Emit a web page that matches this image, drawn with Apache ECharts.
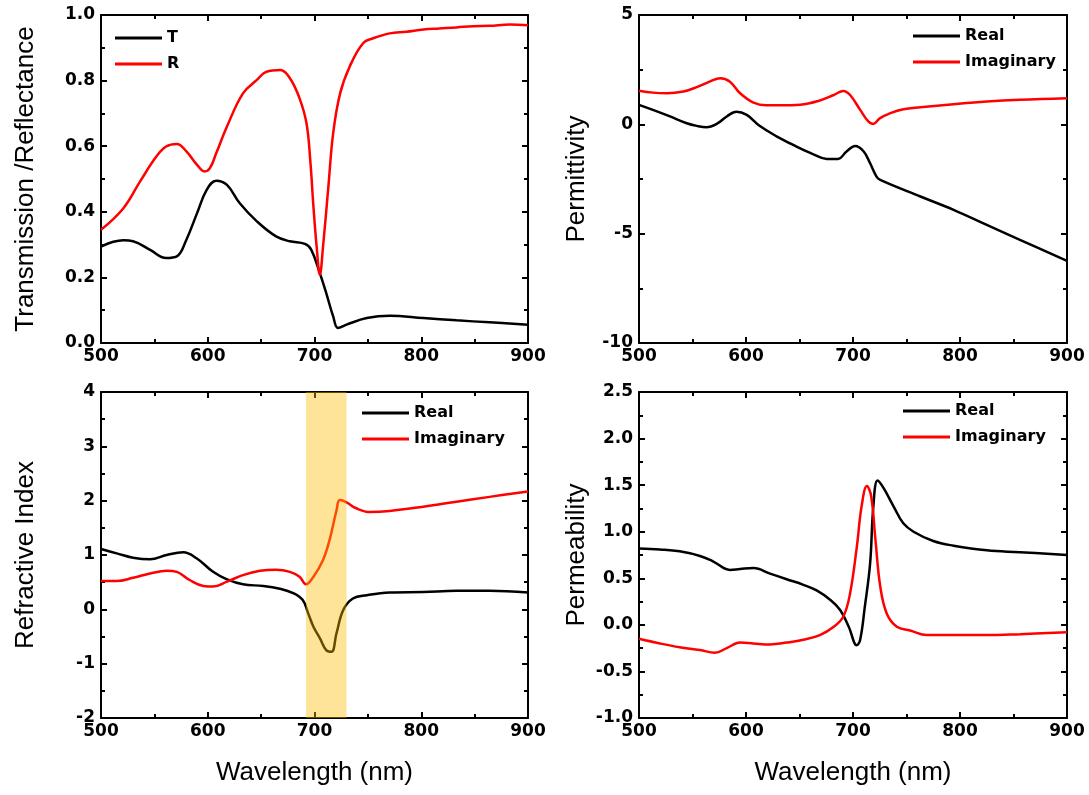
<!DOCTYPE html>
<html>
<head>
<meta charset="utf-8">
<script src="https://cdn.jsdelivr.net/npm/echarts@6/dist/echarts.min.js"></script>
<style>
html,body{margin:0;padding:0;background:#fff;}
#chart{width:1089px;height:795px;}
</style>
</head>
<body>
<div id="chart"></div>
<script>
// ---- Data (wavelength in nm) ----
const tWl = [500,521,530,546,561,571,580,590,599,608,618,630,646,664,677,691,697,705,711,717.5,722,730,749,770.5,802,833,864,900];
const tVal = [0.294,0.313,0.310,0.284,0.259,0.264,0.315,0.396,0.467,0.495,0.482,0.426,0.371,0.325,0.310,0.302,0.284,0.213,0.152,0.081,0.046,0.056,0.076,0.083,0.076,0.069,0.063,0.056];
const rWl = [500,521,536.5,552,561,571,580,590,597,602,608,618,633,646,655,668,677,686,692.5,696,699,702,705,708,713,717.5,724,733,745.5,755,770.5,786,802,817,833,848.5,864,883,900];
const rVal = [0.345,0.411,0.492,0.569,0.599,0.607,0.584,0.543,0.523,0.533,0.579,0.660,0.761,0.802,0.827,0.832,0.807,0.746,0.670,0.558,0.416,0.294,0.208,0.294,0.477,0.640,0.761,0.843,0.914,0.929,0.944,0.949,0.956,0.959,0.962,0.966,0.967,0.971,0.969];

const epsReWl = [500,513,529,544.6,554,563,572.6,582,591,600.7,613,629,644,663,675.5,686,694,702,710,716,722,725.4,763,794,825,856,900];
const epsReVal = [0.89,0.66,0.36,0.05,-0.07,-0.13,0.02,0.36,0.58,0.43,-0.08,-0.56,-0.94,-1.37,-1.58,-1.58,-1.24,-0.99,-1.24,-1.78,-2.39,-2.54,-3.30,-3.91,-4.60,-5.28,-6.24];
const epsImWl = [500,513,526,541.5,554,566,576,585,594.5,607,619,632,650.6,669,682,691,697.3,706.7,714.5,719,725,735,747,763,794,825,856,900];
const epsImVal = [1.54,1.45,1.42,1.50,1.70,1.95,2.11,1.95,1.42,0.99,0.87,0.87,0.90,1.09,1.34,1.53,1.34,0.66,0.12,0.02,0.27,0.51,0.69,0.78,0.92,1.04,1.12,1.19];

const nReWl = [500,514.7,530,546,561.5,577,589.5,605,618,633,652,667.5,680,689,694,699,705,711,716,720.6,727,736,749,770.5,802,833,864,900];
const nReVal = [1.11,1.03,0.95,0.92,1.00,1.05,0.94,0.69,0.55,0.46,0.43,0.38,0.30,0.17,-0.07,-0.32,-0.53,-0.75,-0.78,-0.44,-0.01,0.20,0.26,0.31,0.32,0.34,0.34,0.31];
const nImWl = [500,514.7,530,546,561.5,571,583,596,605,618,633,649,664,677,686,692,699,708,714,720.6,723.7,730,739,752,770.5,802,833,864,900];
const nImVal = [0.52,0.52,0.58,0.66,0.71,0.69,0.54,0.43,0.42,0.51,0.63,0.71,0.73,0.69,0.60,0.46,0.60,0.91,1.27,1.82,2.01,1.97,1.86,1.79,1.81,1.89,1.98,2.07,2.17];

const muReWl = [500,519.6,538,557,569.5,585,594.5,607,622.5,638,653.7,666,678.6,688,696,703.6,706.7,711,716,719,723,728.5,738,747,756.6,775,794,825,856,900];
const muReVal = [0.82,0.81,0.79,0.74,0.68,0.59,0.60,0.61,0.55,0.49,0.43,0.37,0.27,0.16,-0.02,-0.22,-0.16,0.19,0.66,1.27,1.55,1.47,1.27,1.09,1.00,0.90,0.85,0.80,0.78,0.75];
const muImWl = [500,519.6,538,557,571,582,594.5,607,622.5,638,653.7,669,682,691,697.3,703.6,708,713,717,721,725.5,731.6,741,753.4,769,794,825,856,900];
const muImVal = [-0.15,-0.20,-0.24,-0.27,-0.30,-0.25,-0.19,-0.20,-0.21,-0.19,-0.16,-0.11,-0.02,0.09,0.34,0.84,1.27,1.49,1.38,0.91,0.41,0.12,-0.02,-0.06,-0.11,-0.11,-0.11,-0.10,-0.08];

const bandRange = [692, 730];

const xRange = [500, 900, 100];
const yRanges = [[0, 1, 0.2], [-10, 5, 5], [-2, 4, 1], [-1, 2.5, 0.5]];
const yFormats = [1, 0, 0, 1];
const yTitles = ['Transmission /Reflectance', 'Permittivity', 'Refractive Index', 'Permeability'];
const xTitle = 'Wavelength (nm)';

// ---- Layout ----
const grids = [
  {left: 101, top: 15, width: 427, height: 328},
  {left: 639, top: 15, width: 428, height: 328},
  {left: 101, top: 392, width: 427, height: 326},
  {left: 639, top: 392, width: 428, height: 326}
];

const tickFont = {fontFamily: 'DejaVu Sans', fontWeight: 'bold', fontSize: 17, color: '#000'};
const lineAxis = {show: true, onZero: false, lineStyle: {color: '#000', width: 2}};
const titleFont = {fontFamily: 'Liberation Sans', fontSize: 26, color: '#000'};
const tickStyle = {show: true, inside: true, length: 6, lineStyle: {color: '#000', width: 2}};
const minorStyle = {show: true, splitNumber: 2, length: 4, lineStyle: {color: '#000', width: 2}};

const xAxes = [], yAxes = [];
grids.forEach((g, i) => {
  const showTitle = i >= 2;
  xAxes.push({
    type: 'value', gridIndex: i, position: 'bottom',
    min: xRange[0], max: xRange[1], interval: xRange[2],
    axisLine: lineAxis, axisTick: tickStyle, minorTick: minorStyle,
    axisLabel: Object.assign({margin: 5}, tickFont),
    splitLine: {show: false},
    name: showTitle ? xTitle : '',
    nameLocation: 'middle', nameGap: 42,
    nameTextStyle: titleFont
  });
  xAxes.push({
    type: 'value', gridIndex: i, position: 'top',
    min: xRange[0], max: xRange[1], interval: xRange[2],
    axisLine: lineAxis, axisTick: tickStyle, minorTick: minorStyle,
    axisLabel: {show: false}, splitLine: {show: false}
  });
  const yr = yRanges[i];
  const dec = yFormats[i];
  yAxes.push({
    type: 'value', gridIndex: i, position: 'left',
    min: yr[0], max: yr[1], interval: yr[2],
    axisLine: lineAxis, axisTick: tickStyle, minorTick: minorStyle,
    axisLabel: Object.assign({margin: 6, formatter: v => v.toFixed(dec)}, tickFont),
    splitLine: {show: false},
    name: yTitles[i], nameLocation: 'middle', nameRotate: 90,
    nameGap: (i % 2 === 0) ? 62 : 49,
    nameTextStyle: titleFont
  });
  yAxes.push({
    type: 'value', gridIndex: i, position: 'right',
    min: yr[0], max: yr[1], interval: yr[2],
    axisLine: lineAxis, axisTick: tickStyle, minorTick: minorStyle,
    axisLabel: {show: false}, splitLine: {show: false}
  });
});

function zip(xs, ys) { return xs.map((x, k) => [x, ys[k]]); }

function lineSeries(name, gi, xs, ys, color) {
  return {
    type: 'line', name: name,
    xAxisIndex: 2 * gi, yAxisIndex: 2 * gi,
    data: zip(xs, ys),
    showSymbol: false, symbol: 'none',
    smooth: 0.4,
    lineStyle: {color: color, width: 2.5},
    itemStyle: {color: color},
    z: 2
  };
}

const series = [
  lineSeries('T', 0, tWl, tVal, '#000000'),
  lineSeries('R', 0, rWl, rVal, '#ff0000'),
  lineSeries('Real', 1, epsReWl, epsReVal, '#000000'),
  lineSeries('Imaginary', 1, epsImWl, epsImVal, '#ff0000'),
  lineSeries('Real', 2, nReWl, nReVal, '#000000'),
  lineSeries('Imaginary', 2, nImWl, nImVal, '#ff0000'),
  lineSeries('Real', 3, muReWl, muReVal, '#000000'),
  lineSeries('Imaginary', 3, muImWl, muImVal, '#ff0000'),
  {
    type: 'line', name: 'band', xAxisIndex: 4, yAxisIndex: 4, data: [],
    z: 5, silent: true,
    markArea: {
      silent: true, z: 5,
      itemStyle: {color: 'rgba(252,187,0,0.4)'},
      data: [[{xAxis: bandRange[0]}, {xAxis: bandRange[1]}]]
    }
  }
];

const legTextStyle = {fontFamily: 'DejaVu Sans', fontWeight: 'bold', fontSize: 16, color: '#000'};
function mkLegend(names, left, top) {
  return {
    data: names, left: left, top: top, orient: 'vertical',
    itemWidth: 47, itemHeight: 3, itemGap: 10, padding: 0,
    icon: 'rect', selectedMode: false,
    textStyle: legTextStyle
  };
}

const option = {
  animation: false,
  backgroundColor: '#fff',
  grid: grids,
  xAxis: xAxes,
  yAxis: yAxes,
  legend: [
    mkLegend(['T', 'R'], 115, 30),
    mkLegend(['Real', 'Imaginary'], 913, 28),
    mkLegend(['Real', 'Imaginary'], 362, 405),
    mkLegend(['Real', 'Imaginary'], 903, 403)
  ],
  series: series
};

const chart = echarts.init(document.getElementById('chart'), null, {renderer: 'canvas'});
chart.setOption(option);
</script>
</body>
</html>
